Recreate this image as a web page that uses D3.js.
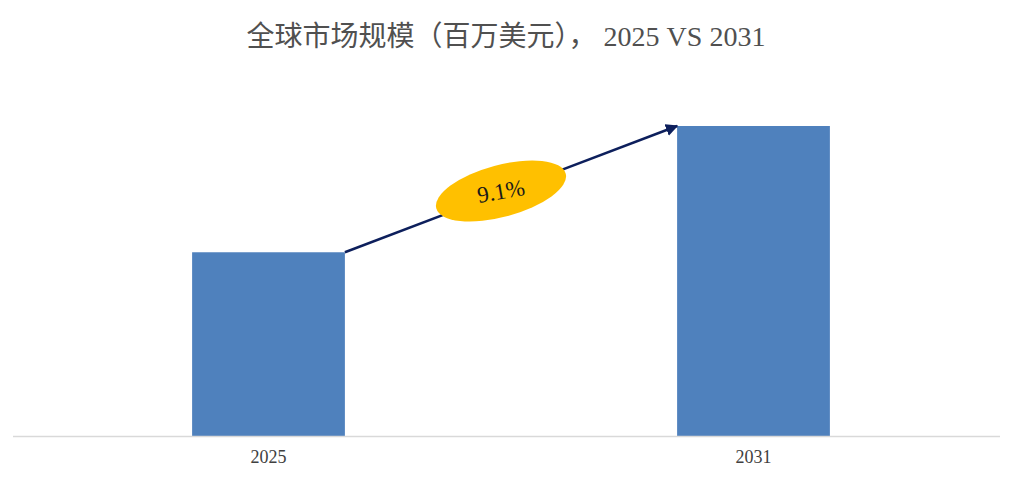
<!DOCTYPE html>
<html><head><meta charset="utf-8">
<script src="https://cdn.jsdelivr.net/npm/d3@7/dist/d3.min.js"></script>
<style>body{margin:0;background:#fff}svg{display:block}</style>
</head><body>
<svg id="c" width="1015" height="482"></svg>
<script>
const categories = ["2025", "2031"];
const values = [1250, 2109];
const cagrLabel = "9.1%";
const title = "全球市场规模（百万美元）， 2025 VS 2031";

const W = 1015, H = 482;
const svg = d3.select("#c");

const x = d3.scaleBand().domain(categories).range([26, 996])
  .paddingInner(0.685).paddingOuter(0.3425);
const y = d3.scaleLinear().domain([0, d3.max(values)]).range([436, 126]);

svg.append("text").attr("x", 506).attr("y", 46).attr("text-anchor", "middle")
  .attr("font-family", "'Liberation Serif','Noto Sans CJK SC',serif")
  .attr("font-size", 28).attr("fill", "#505050").text(title);

// bars
svg.selectAll("rect.bar").data(categories).join("rect").attr("class", "bar")
  .attr("x", d => x(d)).attr("width", x.bandwidth())
  .attr("y", (d, i) => y(values[i])).attr("height", (d, i) => y(0) - y(values[i]))
  .attr("fill", "#4f81bd");

// axis baseline
svg.append("line").attr("x1", 13).attr("x2", 1000).attr("y1", y(0) + 0.5).attr("y2", y(0) + 0.5)
  .attr("stroke", "#d9d9d9").attr("stroke-width", 1.5);

// x axis labels
const xAxis = d3.axisBottom(x).tickSize(0).tickPadding(14);
const gx = svg.append("g").attr("transform", `translate(0,${y(0)})`).call(xAxis);
gx.select(".domain").remove();
gx.selectAll("text").attr("font-family", "'Liberation Serif',serif").attr("font-size", 18).attr("fill", "#404040");

// arrow
const defs = svg.append("defs");
defs.append("marker").attr("id", "ah").attr("viewBox", "0 0 10 10").attr("refX", 9).attr("refY", 5)
  .attr("markerWidth", 5).attr("markerHeight", 5).attr("orient", "auto")
  .append("path").attr("d", "M0,0 L10,5 L0,10 Z").attr("fill", "#0d1f5c");
const x0 = x(categories[0]) + x.bandwidth(), y0 = y(values[0]);
const x1 = x(categories[1]), y1 = y(values[1]);
svg.append("line").attr("x1", x0).attr("y1", y0).attr("x2", x1).attr("y2", y1)
  .attr("stroke", "#0d1f5c").attr("stroke-width", 2.5).attr("marker-end", "url(#ah)");

// ellipse label
const cx = 501, cy = 191;
const g = svg.append("g").attr("transform", `translate(${cx},${cy}) rotate(-15)`);
g.append("ellipse").attr("rx", 67).attr("ry", 26).attr("fill", "#ffc000");
g.append("text").attr("text-anchor", "middle").attr("dy", "0.35em").attr("transform", "rotate(5)")
  .attr("font-family", "'Liberation Serif',serif").attr("font-size", 23).attr("fill", "#1a1a1a").text(cagrLabel);
</script>
</body></html>
